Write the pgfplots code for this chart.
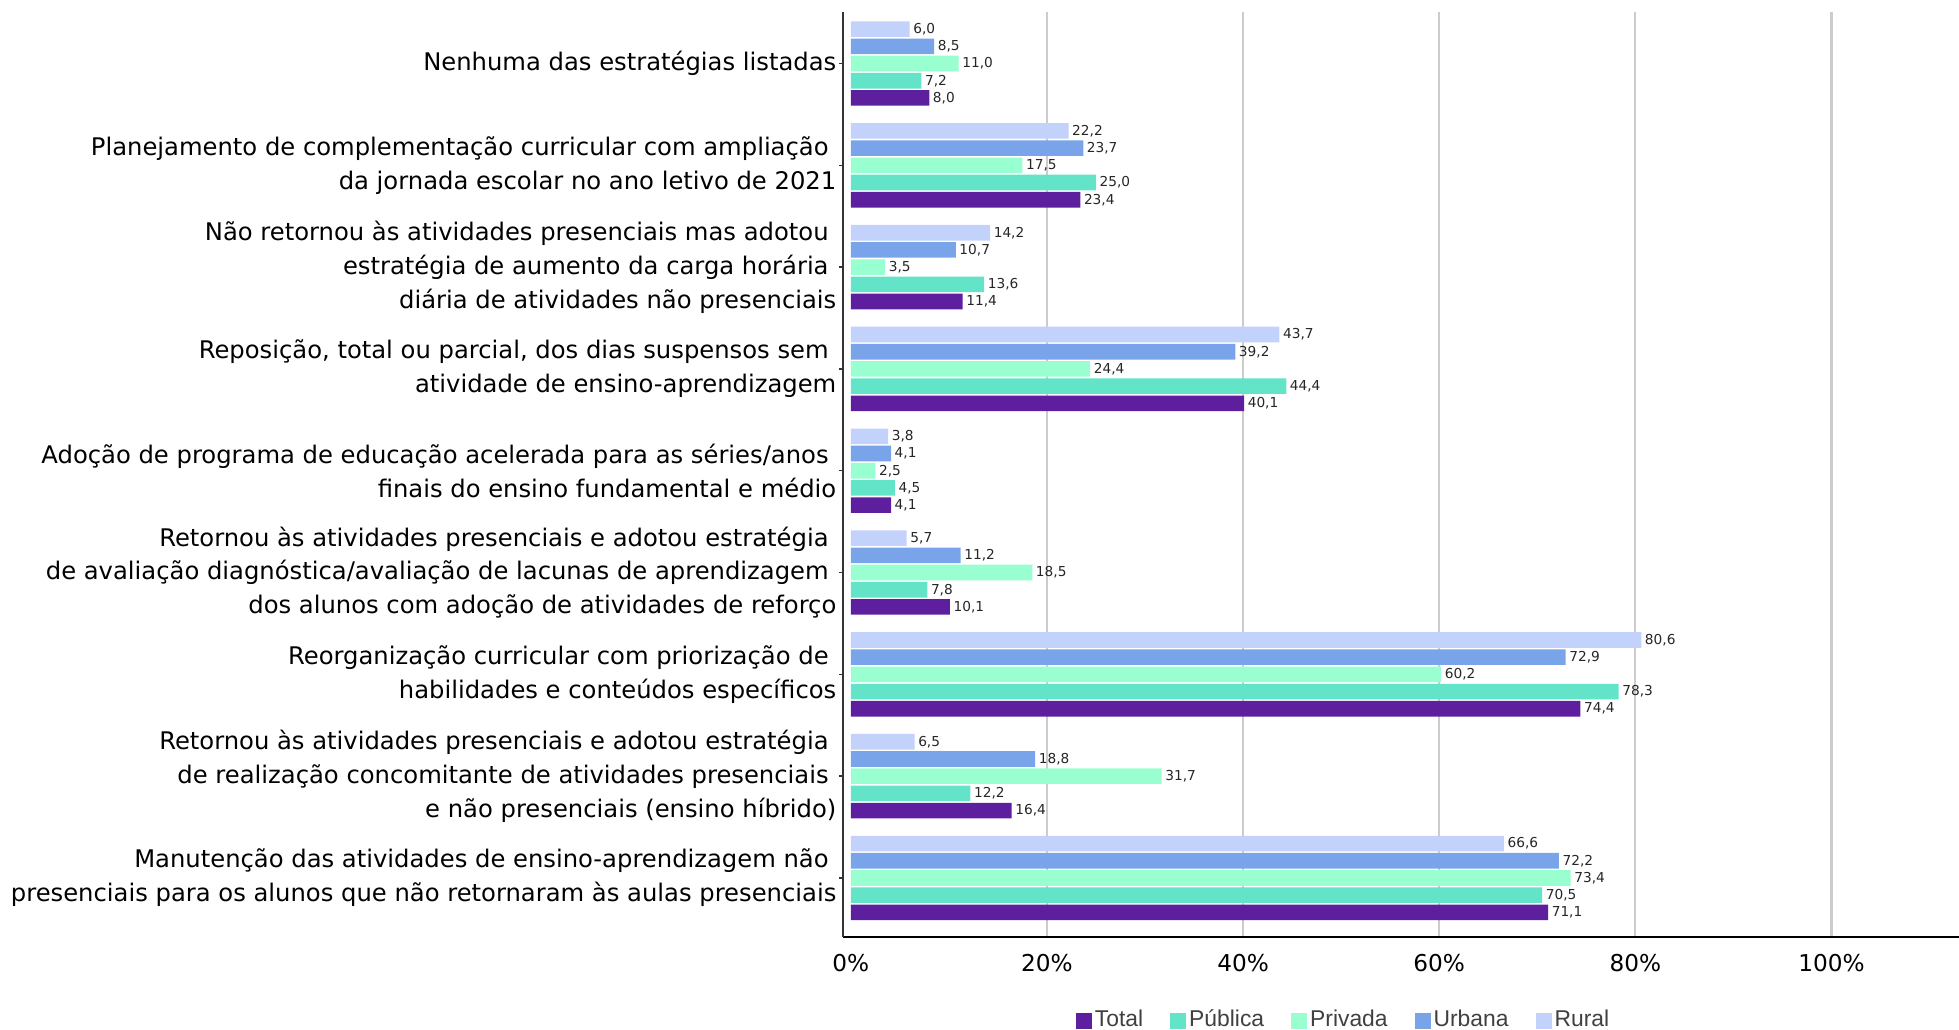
\documentclass[border=0pt]{standalone}
\usepackage{pgfplots}
\pgfplotsset{compat=1.18}
\usepackage{pgfplotstable}
\usepackage{fontspec}
\setmainfont{DejaVu Sans}
\newfontfamily\legfont{Liberation Sans}
\definecolor{cTotal}{HTML}{5E1F9E}
\definecolor{cPub}{HTML}{63E3C8}
\definecolor{cPriv}{HTML}{99FFD0}
\definecolor{cUrb}{HTML}{7AA4E9}
\definecolor{cRur}{HTML}{C3D2FB}
\newcommand\tsp{\kern0.77mm}
\pgfplotstableread{
y total publica privada urbana rural
8 8.0 7.2 11.0 8.5 6.0
7 23.4 25.0 17.5 23.7 22.2
6 11.4 13.6 3.5 10.7 14.2
5 40.1 44.4 24.4 39.2 43.7
4 4.1 4.5 2.5 4.1 3.8
3 10.1 7.8 18.5 11.2 5.7
2 74.4 78.3 60.2 72.9 80.6
1 16.4 12.2 31.7 18.8 6.5
0 71.1 70.5 73.4 72.2 66.6
}\datatable
\begin{document}
\begin{tikzpicture}
\path[use as bounding box] (-84.3mm,-9.3mm) rectangle (111.6mm,93.7mm);
\begin{axis}[
  at={(0,0)}, anchor=south west,
  scale only axis, width=111.6mm, height=92.5mm,
  /pgf/number format/assume math mode=true,
  xbar=0.16mm, bar width=1.56mm,
  xmin=-0.8, xmax=113, ymin=-0.58, ymax=8.506,
  axis x line*=bottom, axis y line*=left,
  axis line style={-, line width=0.6pt},
  x axis line style={black},
  y axis line style={black!80},
  xtick={20,40,60,80,100},
  xticklabels={20\%,40\%,60\%,80\%,100\%},
  extra x ticks={0}, extra x tick labels={0\%},
  extra x tick style={grid=none},
  xmajorgrids, grid style={black!20, line width=0.6pt},
  xtick style={draw=none},
  xticklabel style={font=\fontsize{6.6}{7}\selectfont, text=black, yshift=-0.1mm},
  ytick={0,...,8},
  yticklabels={
    {Manutenção das atividades de ensino-aprendizagem não\tsp\\presenciais para os alunos que não retornaram às aulas presenciais},
    {Retornou às atividades presenciais e adotou estratégia\tsp\\de realização concomitante de atividades presenciais\tsp\\e não presenciais (ensino híbrido)},
    {Reorganização curricular com priorização de\tsp\\habilidades e conteúdos específicos},
    {Retornou às atividades presenciais e adotou estratégia\tsp\\de avaliação diagnóstica/avaliação de lacunas de aprendizagem\tsp\\dos alunos com adoção de atividades de reforço},
    {Adoção de programa de educação acelerada para as séries/anos\tsp\\finais do ensino fundamental e médio},
    {Reposição, total ou parcial, dos dias suspensos sem\tsp\\atividade de ensino-aprendizagem},
    {Não retornou às atividades presenciais mas adotou\tsp\\estratégia de aumento da carga horária\tsp\\diária de atividades não presenciais},
    {Planejamento de complementação curricular com ampliação\tsp\\da jornada escolar no ano letivo de 2021},
    {Nenhuma das estratégias listadas}},
  yticklabel style={font=\fontsize{6.9}{9.6}\selectfont, align=right, inner sep=0pt, xshift=-0.2mm, text=black},
  ytick style={draw=black!80, line width=0.4pt},
  tick align=outside, major tick length=0.4mm,
  point meta=x,
  nodes near coords={\pgfmathprintnumber[fixed,fixed zerofill,precision=1,use comma,assume math mode=true]{\pgfplotspointmeta}},
  nodes near coords style={font=\fontsize{3.9}{4.2}\selectfont, text=black!85, inner sep=0.3mm, anchor=west},
  legend columns=5,
  legend style={draw=none, fill=none, at={(0.449,-0.0908)}, anchor=center,
    font=\legfont\fontsize{6.5}{7}\selectfont, text=black!75,
    /tikz/every even column/.append style={column sep=2.4mm},
    nodes={inner sep=0.3mm}},
  legend image code/.code={\fill[#1,draw=none] (0mm,-0.8mm) rectangle (1.6mm,0.8mm);},
]
\addplot[fill=cTotal, draw=none] table[x=total, y=y] {\datatable};
\addplot[fill=cPub, draw=none] table[x=publica, y=y] {\datatable};
\addplot[fill=cPriv, draw=none] table[x=privada, y=y] {\datatable};
\addplot[fill=cUrb, draw=none] table[x=urbana, y=y] {\datatable};
\addplot[fill=cRur, draw=none] table[x=rural, y=y] {\datatable};
\legend{Total,Pública,Privada,Urbana,Rural}
\end{axis}
\end{tikzpicture}
\end{document}
